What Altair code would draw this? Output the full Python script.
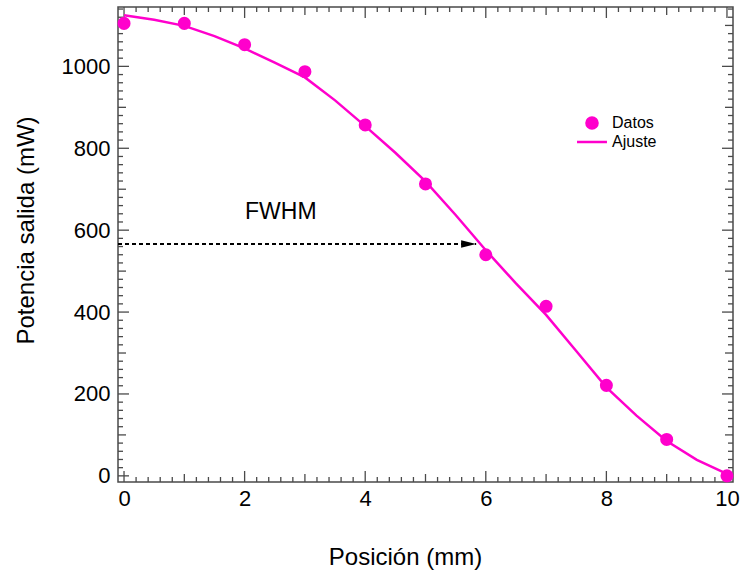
import altair as alt
import pandas as pd

# ---- data ----
pos_mm = [0, 1, 2, 3, 4, 5, 6, 7, 8, 9, 10]
potencia_mw = [1105, 1105, 1053, 987, 857, 713, 540, 414, 221, 89, 0]

ajuste_x = [0, 0.5, 1, 1.5, 2, 2.5, 3, 3.5, 4, 4.5, 5, 5.5, 6, 6.5, 7, 7.5, 8, 8.5, 9, 9.5, 10]
ajuste_y = [1125, 1114, 1099, 1074, 1044, 1009, 973, 917, 854, 789, 719, 637, 551, 470,
            393, 305, 216, 147, 85, 39, 5]

fwhm_x = [-0.1, 5.84]
fwhm_y = [566, 566]
fwhm_label = ["FWHM"]
fwhm_label_x = [2.6]
fwhm_label_y = [644]

x_labels = [0, 2, 4, 6, 8, 10]
y_labels = [0, 200, 400, 600, 800, 1000]
x_major = [0, 2, 4, 6, 8, 10]
x_mid = [1, 3, 5, 7, 9]
x_minor = [round(i * 0.2, 1) for i in range(51) if i % 5 != 0]
y_major = [0, 200, 400, 600, 800, 1000]
y_mid = [100, 300, 500, 700, 900, 1100]
y_minor = [i * 20 for i in range(58) if i % 5 != 0]

MAG = "#ff00cc"
FRAME = "#4a4a4a"
FONT = "Liberation Sans"
W, H = 615, 475
TICK_LEN = {"major": 11, "mid": 8, "minor": 5}

xs = alt.Scale(domain=[-0.1, 10.1], nice=False, zero=False)
ys = alt.Scale(domain=[-15, 1145], nice=False, zero=False)

axis_x = alt.Axis(orient="bottom", values=x_labels, ticks=False, domain=False,
                  format="d",
                  labelFont=FONT, labelFontSize=22, labelColor="black",
                  labelPadding=6, labelFlush=False,
                  title="Posición (mm)", titleFont=FONT, titleFontSize=24,
                  titleFontWeight="normal", titleColor="black",
                  titleX=287, titleY=82, titleBaseline="alphabetic")
axis_y = alt.Axis(orient="left", values=y_labels, ticks=False, domain=False,
                  format="d",
                  labelFont=FONT, labelFontSize=22, labelColor="black",
                  labelPadding=8, labelFlush=False,
                  title="Potencia salida (mW)", titleFont=FONT, titleFontSize=24,
                  titleFontWeight="normal", titleColor="black",
                  titleX=-85, titleY=223, titleAngle=-90,
                  titleAlign="center", titleBaseline="alphabetic")


def X(field):
    return alt.X(field, type="quantitative", scale=xs, axis=axis_x)


def Y(field):
    return alt.Y(field, type="quantitative", scale=ys, axis=axis_y)


df_pts = pd.DataFrame({"x": pos_mm, "y": potencia_mw, "serie": ["Datos"] * len(pos_mm)})
df_fit = pd.DataFrame({"x": ajuste_x, "y": ajuste_y})
df_arrow = pd.DataFrame({"x": fwhm_x, "y": fwhm_y})
df_head = df_arrow.tail(1)
df_text = pd.DataFrame({"x": fwhm_label_x, "y": fwhm_label_y, "t": fwhm_label})

legend = alt.Legend(title=None, orient="none", legendX=466, legendY=108,
                    labelFont=FONT, labelFontSize=16, labelColor="black",
                    symbolSize=123, symbolStrokeColor=MAG, symbolStrokeWidth=2.5,
                    symbolFillColor=MAG, labelOffset=12, rowPadding=-2, padding=0)

line = alt.Chart(df_fit).mark_line(color=MAG, strokeWidth=2.5).encode(x=X("x"), y=Y("y"))

pts = alt.Chart(df_pts).mark_point(filled=True, size=170, opacity=1).encode(
    x=X("x"), y=Y("y"),
    color=alt.Color("serie:N", scale=alt.Scale(domain=["Datos", "Ajuste"], range=[MAG, MAG]),
                    legend=legend),
    shape=alt.Shape("serie:N", scale=alt.Scale(domain=["Datos", "Ajuste"],
                                               range=["circle", "M -2.7 0 L 2.7 0"]),
                    legend=legend),
)

arrow = alt.Chart(df_arrow).mark_line(color="black", strokeWidth=2, strokeDash=[4, 3]).encode(
    x=X("x"), y=Y("y"))

head = alt.Chart(df_head).mark_point(shape="M -2 -0.5 L 0 0 L -2 0.5 Z", filled=True,
                                     color="black", size=225, opacity=1).encode(
    x=X("x"), y=Y("y"))

text = alt.Chart(df_text).mark_text(font=FONT, fontSize=23, color="black").encode(
    x=X("x"), y=Y("y"), text="t:N")

# inward frame ticks on all four sides (positions from the shared scales)
tick_layers = []
for kind, xv, yv in [("major", x_major, y_major), ("mid", x_mid, y_mid),
                     ("minor", x_minor, y_minor)]:
    L = TICK_LEN[kind]
    dfx = pd.DataFrame({"v": xv})
    dfy = pd.DataFrame({"v": yv})
    rule = dict(color=FRAME, strokeWidth=1.3)
    # bottom edge
    tick_layers.append(alt.Chart(dfx).mark_rule(**rule).encode(
        x=X("v"), y=alt.value(H), y2=alt.value(H - L)))
    # top edge
    tick_layers.append(alt.Chart(dfx).mark_rule(**rule).encode(
        x=X("v"), y=alt.value(0), y2=alt.value(L)))
    # left edge
    tick_layers.append(alt.Chart(dfy).mark_rule(**rule).encode(
        y=Y("v"), x=alt.value(0), x2=alt.value(L)))
    # right edge
    tick_layers.append(alt.Chart(dfy).mark_rule(**rule).encode(
        y=Y("v"), x=alt.value(W), x2=alt.value(W - L)))

chart = alt.layer(*tick_layers, line, pts, arrow, head, text).properties(
    width=W, height=H, autosize="none",
    padding={"left": 118, "top": 7, "right": 11, "bottom": 89},
    background="white",
).configure_view(stroke=FRAME, strokeWidth=1.5).configure_axis(grid=False)

chart.save("out.html", embed_options={"renderer": "svg", "actions": False})
